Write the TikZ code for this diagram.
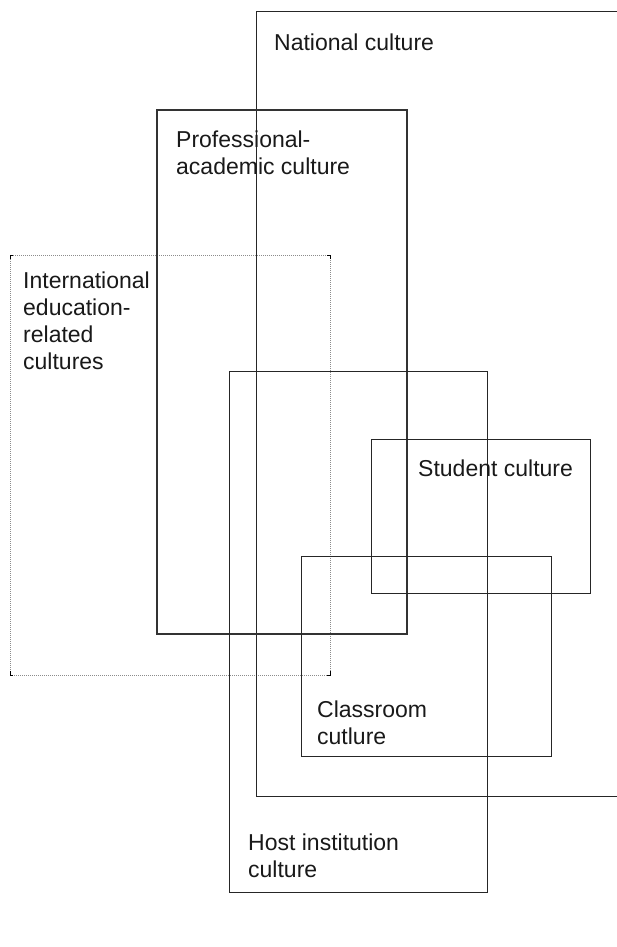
\documentclass[tikz,border=0pt]{standalone}
\usepackage{fontspec}
\setmainfont{Liberation Sans}
\usetikzlibrary{positioning}

\tikzset{
  box/.style={draw=black!85, line width=0.9pt},
  probox/.style={draw=black!80, line width=1.9pt},
  dotbox/.style={draw=black!45, line width=0.8pt, dash pattern=on 1pt off 1pt},
  corner/.style={draw=black, line width=0.9pt},
  label/.style={anchor=base west, inner sep=0pt, align=left,
                font=\fontsize{23}{26.7}\selectfont, text=black!90}
}

\begin{document}
\begin{tikzpicture}[x=1pt, y=-1pt]
    \useasboundingbox (0 , 0) rectangle (617 , 947);

    % boxes
    \draw[dotbox] (10 , 255) rectangle (330 , 675);
    \draw[corner] (13 , 255) -- (10 , 255) -- (10 , 259);
    \draw[corner] (327 , 255) -- (330 , 255) -- (330 , 259);
    \draw[corner] (10 , 671) -- (10 , 675) -- (13 , 675);
    \draw[corner] (330 , 671) -- (330 , 675) -- (327 , 675);
    \draw[box] (617 , 11) -- (256 , 11) -- (256 , 796) -- (617 , 796);
    \draw[probox] (157 , 110) rectangle (407 , 634);
    \draw[box] (229 , 371) rectangle (487 , 892);
    \draw[box] (371 , 439) rectangle (590 , 593);
    \draw[box] (301 , 556) rectangle (551 , 756);

    % labels (base = baseline of the last line)
    \node [label] (nat) at (274 , 51) {National culture};
    \node [label] (prof) at (176 , 174) {Professional-\\academic culture};
    \node [label] (intl) at (23 , 369) {International\\education-\\related\\cultures};
    \node [label] (stud) at (418 , 476) {Student culture};
    \node [label] (cls) at (317 , 744) {Classroom\\cutlure};
    \node [label] (host) at (248 , 877) {Host institution\\culture};
\end{tikzpicture}
\end{document}
